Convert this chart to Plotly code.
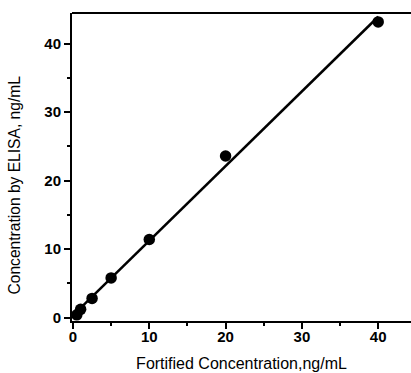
import numpy as np
import plotly.graph_objects as go

fortified = [0.5, 1, 2.5, 5, 10, 20, 40]
elisa = [0.4, 1.2, 2.8, 5.8, 11.4, 23.6, 43.2]
x_ticks = [0, 10, 20, 30, 40]
y_ticks = [0, 10, 20, 30, 40]

slope, intercept = np.polyfit(fortified, elisa, 1)
fit_x = [0, 40]
fit_y = [intercept + slope * v for v in fit_x]

font_family = "Liberation Sans, Arial, sans-serif"

fig = go.Figure()
fig.add_trace(go.Scatter(x=fit_x, y=fit_y, mode="lines",
                         line=dict(color="black", width=2.5), showlegend=False))
fig.add_trace(go.Scatter(x=fortified, y=elisa, mode="markers",
                         marker=dict(color="black", size=11.5), showlegend=False))

axis_common = dict(
    showgrid=False, zeroline=False, showline=True, linecolor="black", linewidth=2,
    ticks="outside", ticklen=6, tickwidth=1.5, tickcolor="black",
    tickfont=dict(family=font_family, size=15, color="black", weight="bold"),
    minor=dict(ticks="outside", ticklen=3, tickwidth=1.5, tickcolor="black", dtick=5),
)

fig.update_layout(
    width=411, height=373,
    margin=dict(l=72, r=0, t=13, b=52),
    paper_bgcolor="white", plot_bgcolor="white",
    xaxis=dict(range=[-0.13, 44.3], tickvals=x_ticks, ticklabelstandoff=-5,
               title=dict(text="Fortified Concentration,ng/mL", standoff=14,
                          font=dict(family=font_family, size=16, color="black")),
               **axis_common),
    yaxis=dict(range=[-0.5, 44.5], tickvals=y_ticks, **axis_common),
    annotations=[dict(text="Concentration by ELISA, ng/mL", textangle=-90,
                      xref="paper", yref="paper", x=-0.171, y=0.44,
                      xanchor="center", yanchor="middle", showarrow=False,
                      font=dict(family=font_family, size=15.6, color="black"))],
    shapes=[dict(type="line", xref="paper", yref="paper", x0=0, x1=1, y0=1, y1=1,
                 line=dict(color="black", width=2))],
)

fig.write_html("out.html")
